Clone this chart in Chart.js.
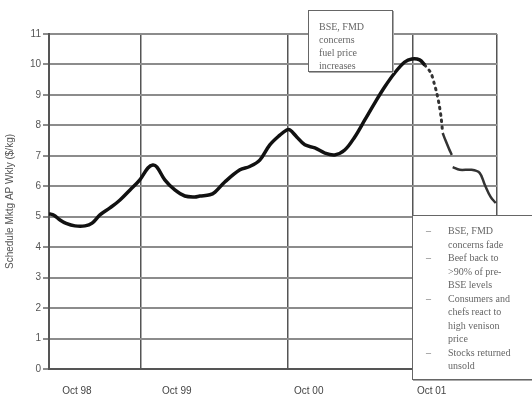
<!DOCTYPE html>
<html lang="en">
	<head>
		<meta charset="UTF-8" />
		<title>Venison schedule price</title>
		<script src="https://cdn.jsdelivr.net/npm/chart.js"></script>
		<style>
			body {
				margin: 0;
				background: #fff;
			}
			#wrap {
				position: relative;
				width: 532px;
				height: 399px;
				overflow: hidden;
			}
			.note {
				position: absolute;
				background: #fff;
				border: 1px solid #666;
				box-shadow: 1px 1px 0 #aaa;
				font-family: "Liberation Serif", "DejaVu Serif", serif;
				font-size: 10px;
				color: #666;
				box-sizing: border-box;
			}
			#noteTop {
				left: 308px;
				top: 10px;
				width: 85px;
				height: 62px;
				padding: 9px 0 0 10px;
				line-height: 13px;
			}
			#noteSide {
				left: 412px;
				top: 215px;
				width: 140px;
				height: 165px;
				padding: 8px 0 0 0;
				line-height: 13.5px;
			}
			#noteSide div {
				position: relative;
				padding-left: 35px;
			}
			#noteSide div span {
				position: absolute;
				left: 13px;
			}
		</style>
	</head>
	<body>
		<div id="wrap">
			<canvas id="chart" width="532" height="399"></canvas>
			<div class="note" id="noteTop">BSE, FMD<br />concerns<br />fuel price<br />increases</div>
			<div class="note" id="noteSide">
				<div><span>–</span>BSE, FMD</div>
				<div>concerns fade</div>
				<div><span>–</span>Beef back to</div>
				<div>&gt;90% of pre-</div>
				<div>BSE levels</div>
				<div><span>–</span>Consumers and</div>
				<div>chefs react to</div>
				<div>high venison</div>
				<div>price</div>
				<div><span>–</span>Stocks returned</div>
				<div>unsold</div>
			</div>
		</div>
		<script>
			// x is in weeks from the start of the series, y is $/kg
			const weeksMain = [0, 2, 4.5, 7, 10.6, 14.7, 17.6, 20.8, 24.9, 29, 33.1, 37.1, 40.4, 42.4, 44.1, 47.3, 51.4, 55.5, 59.6, 61.6, 65.7, 67.8, 71.8, 78, 82, 86.1, 90.2, 94.3, 97.1, 98.4, 101.2, 104.5, 108.6, 112.7, 116.7, 120.8, 124.9, 129, 133.1, 137.1, 141.2, 145.3, 148.2, 151.4, 153.5];
			const priceMain = [5.1, 5.05, 4.89, 4.78, 4.7, 4.7, 4.79, 5.06, 5.29, 5.55, 5.88, 6.21, 6.6, 6.7, 6.63, 6.21, 5.88, 5.68, 5.65, 5.68, 5.72, 5.81, 6.14, 6.54, 6.65, 6.86, 7.36, 7.68, 7.85, 7.85, 7.62, 7.36, 7.26, 7.09, 7.03, 7.19, 7.62, 8.18, 8.74, 9.26, 9.72, 10.08, 10.18, 10.15, 9.98];

			const weeksDotted = [153.5, 156, 157.3, 158.4, 159.4, 160.2, 160.8];
			const priceDotted = [9.98, 9.72, 9.39, 9.06, 8.67, 8.24, 7.75];

			const weeksTail = [160.8, 162, 163.3, 164.5, 164.7, 164.9, 167.8, 172.6, 175.9, 178, 180.4, 182.5];
			const priceTail = [7.75, 7.5, 7.25, 7.03, null, 6.63, 6.54, 6.54, 6.44, 6.05, 5.65, 5.45];

			const gridWeeks = [0, 37.6, 97.6, 148.6, 183];
			const labelWeeks = [11.4, 52.2, 106.1, 156.3];
			const monthLabels = ["Oct 98", "Oct 99", "Oct 00", "Oct 01"];
			const yMin = 0;
			const yMax = 11;

			const points = (xs, ys) => xs.map((x, i) => ({ x: x, y: ys[i] }));

			const ctx = document.getElementById("chart").getContext("2d");
			new Chart(ctx, {
				type: "line",
				data: {
					datasets: [
						{
							data: points(weeksMain, priceMain),
							borderColor: "#111",
							borderWidth: 3.5,
							tension: 0.35,
							pointRadius: 0,
						},
						{
							data: points(weeksDotted, priceDotted),
							borderColor: "#333",
							borderWidth: 3,
							borderDash: [1.5, 5],
							borderCapStyle: "round",
							tension: 0.3,
							pointRadius: 0,
						},
						{
							data: points(weeksTail, priceTail),
							borderColor: "#333",
							borderWidth: 2.5,
							tension: 0.35,
							spanGaps: false,
							pointRadius: 0,
						},
					],
				},
				options: {
					responsive: false,
					animation: false,
					events: [],
					layout: {
						padding: { top: 34, right: 35, left: 0, bottom: 0 },
					},
					plugins: {
						legend: { display: false },
						tooltip: { enabled: false },
					},
					scales: {
						x: {
							type: "linear",
							min: 0,
							max: 183,
							afterBuildTicks: (axis) => {
								axis.ticks = gridWeeks
									.concat(labelWeeks)
									.map((v) => ({ value: v }));
							},
							afterFit: (axis) => {
								axis.height = 30;
							},
							ticks: {
								autoSkip: false,
								maxRotation: 0,
								padding: 16,
								color: "#444",
								font: { family: "Liberation Sans", size: 10 },
								callback: (v) => {
									const i = labelWeeks.indexOf(v);
									return i < 0 ? "" : monthLabels[i];
								},
							},
							grid: {
								drawTicks: false,
								lineWidth: 1.5,
								color: (c) =>
									c.tick && gridWeeks.includes(c.tick.value)
										? "#555"
										: "rgba(0,0,0,0)",
							},
							border: { color: "#555", width: 2 },
						},
						y: {
							min: yMin,
							max: yMax,
							afterFit: (axis) => {
								axis.width = 49;
							},
							ticks: {
								stepSize: 1,
								padding: 2,
								color: "#555",
								font: { family: "Liberation Sans", size: 10 },
							},
							grid: {
								color: "#8c8c8c",
								lineWidth: 2,
								tickLength: 6,
							},
							border: { color: "#555", width: 2 },
							title: {
								display: true,
								text: "Schedule Mktg AP Wkly ($/kg)",
								color: "#555",
								padding: { top: 4, bottom: 0 },
								font: { family: "Liberation Sans", size: 10 },
							},
						},
					},
				},
			});
		</script>
	</body>
</html>
